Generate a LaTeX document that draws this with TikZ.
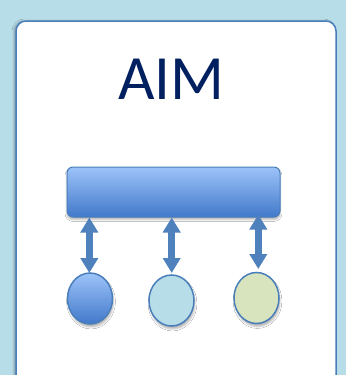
\documentclass[tikz,border=0pt]{standalone}
\usepackage{fontspec}
\setmainfont{Carlito}
\usetikzlibrary{arrows.meta,shadows.blur,shapes.geometric}
\definecolor{bgblue}{HTML}{B7DDE8}
\definecolor{edgeblue}{HTML}{4A7EBB}
\definecolor{arrowblue}{HTML}{4F81BD}
\definecolor{topblue}{HTML}{9DC3F9}
\definecolor{botblue}{HTML}{4279CA}
\definecolor{paleblue}{HTML}{B7DDE8}
\definecolor{palegreen}{HTML}{D7E4BD}
\definecolor{navy}{HTML}{002060}
\tikzset{
  card/.style={draw=edgeblue, line width=1.5pt, fill=white, rounded corners=10pt,
    blur shadow={shadow xshift=-2pt, shadow yshift=0pt, shadow opacity=30, shadow blur steps=6}},
  barbox/.style={draw=edgeblue, line width=1pt, rounded corners=6pt,
    top color=topblue, bottom color=botblue, minimum width=213pt, minimum height=50pt,
    inner sep=0pt, blur shadow={shadow xshift=0pt, shadow yshift=-2.5pt, shadow opacity=30}},
  dot/.style={ellipse, draw=edgeblue, line width=1.5pt, minimum width=45pt, minimum height=51pt,
    inner sep=0pt, blur shadow={shadow xshift=1pt, shadow yshift=-3pt, shadow opacity=30}},
  dblarrow/.style={draw=arrowblue, line width=7pt,
    {Triangle[width=17pt,length=15pt]}-{Triangle[width=17pt,length=15pt]}},
  title/.style={font=\fontsize{63}{63}\selectfont, text=navy, inner sep=0pt}
}
\begin{document}
\begin{tikzpicture}[x=1pt,y=-1pt]
  \fill[bgblue] (0,0) rectangle (346,375);
  \useasboundingbox (0,0) rectangle (346,375);
  \begin{scope}
    \clip (0,0) rectangle (346,375);
    \path[card] (16,21) rectangle (336,390);
  \end{scope}
  \node[title, anchor=base] (aim) at (171.5,99.3) {AIM};
  \node[barbox] (bar) at (173.5,192) {};
  \node[dot, top color=topblue, bottom color=botblue] (c1) at (90,298.5) {};
  \node[dot, fill=paleblue] (c2) at (171.5,300.5) {};
  \node[dot, fill=palegreen] (c3) at (256.5,298) {};
  \coordinate (a1) at (89.3,217.5);
  \coordinate (a2) at (171.7,217.5);
  \coordinate (a3) at (258.3,214.5);
  \coordinate (b1) at (89.3,273);
  \coordinate (b2) at (171.7,273);
  \coordinate (b3) at (258.3,269);
  \draw[dblarrow] (a1) -- (b1);
  \draw[dblarrow] (a2) -- (b2);
  \draw[dblarrow] (a3) -- (b3);
\end{tikzpicture}
\end{document}
